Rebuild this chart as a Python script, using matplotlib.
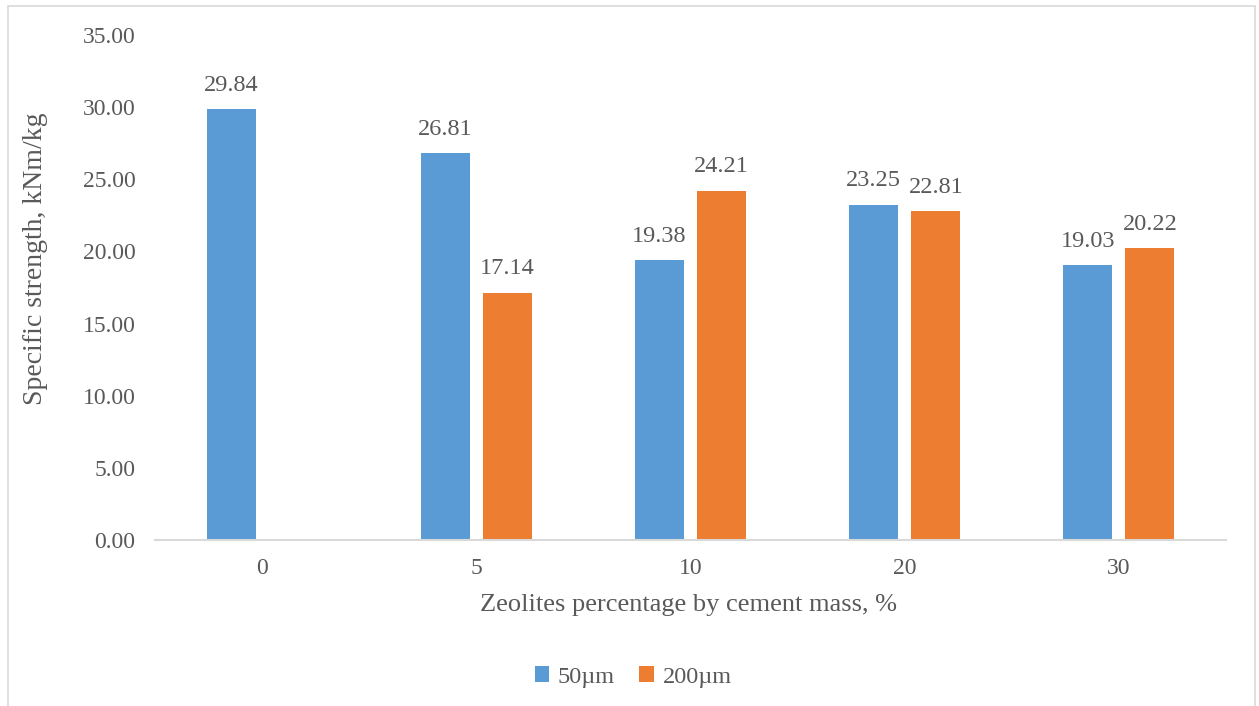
import numpy as np
import matplotlib.pyplot as plt
from matplotlib.patches import Rectangle

# Spesifikk styrke for to partikkelstørrelser
categories = ['0', '5', '10', '20', '30']
vals_50 = [29.84, 26.81, 19.38, 23.25, 19.03]
vals_200 = [np.nan, 17.14, 24.21, 22.81, 20.22]
series_names = ['50µm', '200µm']

blue = '#5b9bd5'
orange = '#ed7d31'
grey = '#595959'

plt.rcParams['font.family'] = ['Liberation Serif', 'DejaVu Serif']

W, H = 1259, 706
fig = plt.figure(figsize=(W / 100, H / 100), dpi=100)
ax = fig.add_axes([155 / W, 1 - 540 / H, (1226 - 155) / W, (540 - 35) / H])

x = np.arange(len(categories))
w = 0.229
off = 0.145
b1 = ax.bar(x - off, vals_50, w, color=blue, label=series_names[0])
b2 = ax.bar(x + off, vals_200, w, color=orange, label=series_names[1])

for bars, vals in ((b1, vals_50), (b2, vals_200)):
    for rect, v in zip(bars, vals):
        if np.isnan(v):
            continue
        ax.annotate(f'{v:.2f}', (rect.get_x() + rect.get_width() / 2, v),
                    xytext=(0, 9.5), textcoords='offset points',
                    ha='center', va='bottom', fontsize=17.5, color=grey)

ax.set_xlim(-0.5, len(categories) - 0.5)
ax.set_ylim(0, 35)
yt = np.arange(0, 35.01, 5)
ax.set_yticks(yt)
ax.set_yticklabels([f'{t:.2f}' for t in yt])
ax.set_xticks(x)
ax.set_xticklabels(categories)
ax.tick_params(length=0, labelsize=17, labelcolor=grey)
ax.tick_params(axis='y', pad=14)
ax.tick_params(axis='x', pad=13)

for s in ('top', 'right', 'left'):
    ax.spines[s].set_visible(False)
ax.spines['bottom'].set_color('#d9d9d9')
ax.spines['bottom'].set_linewidth(1.5)

ax.set_ylabel('Specific strength, kNm/kg', fontsize=20, color=grey, va='center')
ax.yaxis.set_label_coords(-0.112, 0.556)
ax.set_xlabel('Zeolites percentage by cement mass, %', fontsize=19, color=grey, va='center')
ax.xaxis.set_label_coords(0.498, -0.129)

fig.legend(handles=[b1, b2], labels=series_names, loc='center',
           bbox_to_anchor=(0.503, 1 - 677 / H), ncol=2, frameon=False,
           fontsize=17.5, labelcolor=grey, handlelength=0.6, handleheight=0.6,
           handletextpad=0.35, columnspacing=1.0)

# ramme rundt diagrammet
fig.patches.append(Rectangle((8 / W, -0.01), (1255 - 8) / W, 1 - 6 / H + 0.01,
                             transform=fig.transFigure, fill=False,
                             edgecolor='#d9d9d9', linewidth=1.2))

fig.savefig('out.png', dpi=100)
